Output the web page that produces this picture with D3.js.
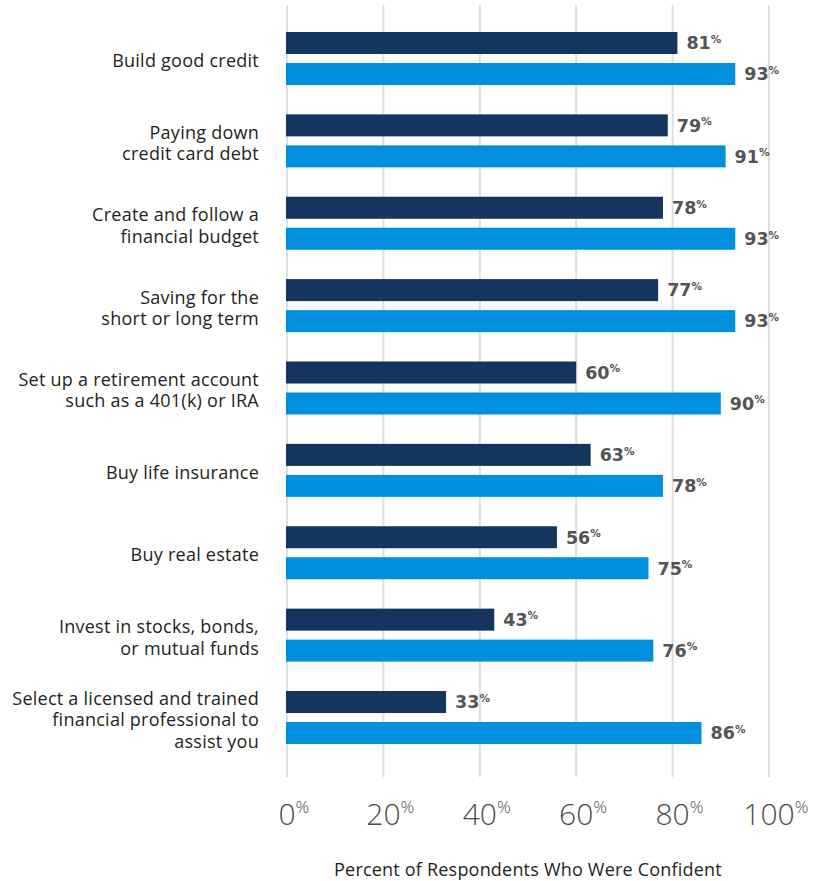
<!DOCTYPE html>
<html>
<head>
<meta charset="utf-8">
<script src="https://cdn.jsdelivr.net/npm/d3@7"></script>
<style>
  html, body { margin: 0; padding: 0; background: #fff; }
  svg { display: block; font-family: "Open Sans", "Lato", sans-serif; }
</style>
</head>
<body>
<svg id="chart" width="825" height="881"></svg>
<script>
// Survey categories, split where the label wraps
const categories = [
  ["Build good credit"],
  ["Paying down", "credit card debt"],
  ["Create and follow a", "financial budget"],
  ["Saving for the", "short or long term"],
  ["Set up a retirement account", "such as a 401(k) or IRA"],
  ["Buy life insurance"],
  ["Buy real estate"],
  ["Invest in stocks, bonds,", "or mutual funds"],
  ["Select a licensed and trained", "financial professional to", "assist you"]
];
const seriesA = [81, 79, 78, 77, 60, 63, 56, 43, 33];
const seriesB = [93, 91, 93, 93, 90, 78, 75, 76, 86];
const tickValues = [0, 20, 40, 60, 80, 100];
const axisTitle = "Percent of Respondents Who Were Confident";

const colorA = "#13355f";
const colorB = "#0090dd";

const svg = d3.select("#chart");

const x = d3.scaleLinear().domain([0, 100]).range([287, 769]);
const y = d3.scaleBand()
  .domain(d3.range(categories.length))
  .range([17.3, 758.7])
  .paddingInner(0)
  .paddingOuter(0);

const barH = 22, barGap = 9;

// vertical gridlines
svg.append("g")
  .selectAll("line")
  .data(tickValues)
  .join("line")
  .attr("x1", d => x(d)).attr("x2", d => x(d))
  .attr("y1", 5).attr("y2", 777)
  .attr("stroke", "#dedede")
  .attr("stroke-width", 2);

const groups = svg.append("g")
  .selectAll("g")
  .data(categories)
  .join("g")
  .attr("transform", (d, i) => `translate(0,${y(i) + y.bandwidth() / 2})`);

// category labels, right-aligned and centred on the pair of bars
groups.append("text")
  .attr("text-anchor", "end")
  .attr("fill", "#231f20")
  .attr("font-size", 18)
  .attr("letter-spacing", 0.25)
  .each(function (lines) {
    const t = d3.select(this);
    const lh = 21.5;
    const start = -(lines.length - 1) * lh / 2;
    lines.forEach((ln, k) => {
      t.append("tspan")
        .attr("x", 259)
        .attr("y", start + k * lh + 2)
        .attr("dy", "0.37em")
        .text(ln);
    });
  });

function drawSeries(values, color, offset) {
  groups.append("rect")
    .attr("x", x(0) - 1)
    .attr("y", offset)
    .attr("height", barH)
    .attr("width", (d, i) => x(values[i]) - x(0) + 1)
    .attr("fill", color);

  const lab = groups.append("text")
    .attr("x", (d, i) => x(values[i]) + 9)
    .attr("y", offset + barH / 2)
    .attr("dy", "0.36em")
    .attr("fill", "#545454")
    .attr("font-family", "'DejaVu Sans', sans-serif")
    .attr("font-weight", 700)
    .attr("font-size", 17.5);
  lab.append("tspan").text((d, i) => values[i]);
  lab.append("tspan").attr("font-size", 10.5).attr("dy", "-0.62em").text("%");
}

drawSeries(seriesA, colorA, -barH - barGap / 2);
drawSeries(seriesB, colorB, barGap / 2);

// x-axis tick labels: number centred on its gridline, % set as superscript
const ticks = svg.append("g")
  .selectAll("text")
  .data(tickValues)
  .join("text")
  .attr("y", 825)
  .attr("fill", "#4d4d4d")
  .attr("font-weight", 300)
  .attr("font-size", 30);
ticks.append("tspan").attr("class", "num").text(d => d);
ticks.append("tspan").attr("font-size", 17).attr("dy", "-0.72em").text("%");
ticks.each(function (d) {
  const w = d3.select(this).select(".num").node().getComputedTextLength();
  d3.select(this).attr("x", x(d) - w / 2);
});

svg.append("text")
  .attr("x", 528)
  .attr("y", 876)
  .attr("text-anchor", "middle")
  .attr("fill", "#231f20")
  .attr("font-size", 18)
  .attr("letter-spacing", 0.2)
  .text(axisTitle);
</script>
</body>
</html>
